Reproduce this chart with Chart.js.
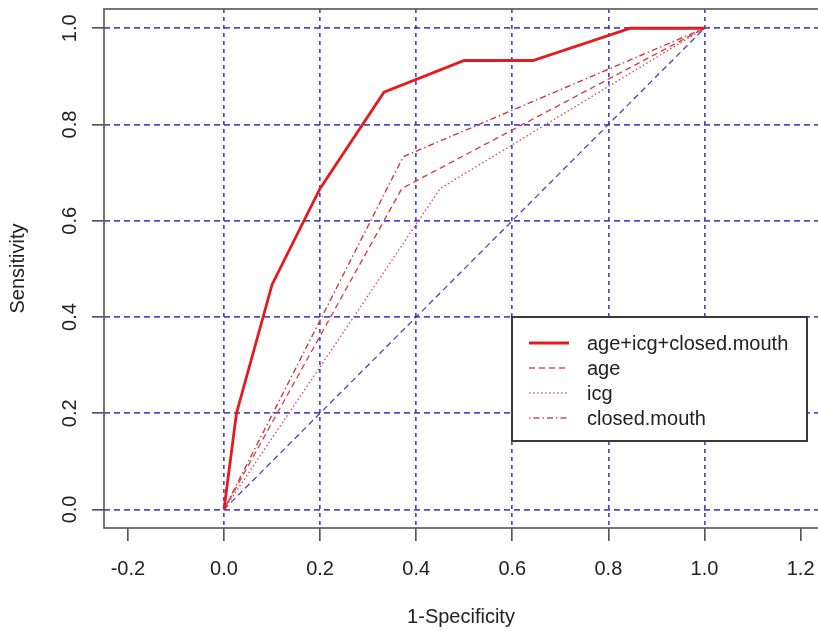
<!DOCTYPE html>
<html>
<head>
<meta charset="utf-8">
<script src="https://cdn.jsdelivr.net/npm/chart.js@4/dist/chart.umd.min.js"></script>
<style>
  html, body { margin: 0; padding: 0; background: #ffffff; overflow: hidden; }
  #wrap { width: 818px; height: 632px; }
</style>
</head>
<body>
<div id="wrap"><canvas id="c" width="818" height="632"></canvas></div>
<script>
// ---- data ----
const seriesNames = ['age+icg+closed.mouth', 'age', 'icg', 'closed.mouth'];
const combinedFpr = [0, 0.026, 0.1, 0.2, 0.333, 0.5, 0.643, 0.846, 1.0];
const combinedTpr = [0, 0.2, 0.467, 0.667, 0.867, 0.933, 0.933, 1.0, 1.0];
const ageFpr = [0, 0.37, 1.0];
const ageTpr = [0, 0.667, 1.0];
const icgFpr = [0, 0.45, 1.0];
const icgTpr = [0, 0.667, 1.0];
const closedFpr = [0, 0.373, 1.0];
const closedTpr = [0, 0.733, 1.0];
const chanceX = [0, 1];
const chanceY = [0, 1];
const xTickValues = [-0.2, 0.0, 0.2, 0.4, 0.6, 0.8, 1.0, 1.2];
const yTickValues = [0.0, 0.2, 0.4, 0.6, 0.8, 1.0];
const xAxisTitle = '1-Specificity';
const yAxisTitle = 'Sensitivity';

const pts = (xs, ys) => xs.map((x, i) => ({ x: x, y: ys[i] }));

const gridBlue = 'rgba(45,45,195,0.85)';
const FONT = "'Liberation Sans', Arial, Helvetica, sans-serif";

const frameAndLegend = {
  id: 'frameAndLegend',
  afterDatasetsDraw(chart) {
    const ctx = chart.ctx;
    const a = chart.chartArea;
    ctx.save();
    // plot frame (R box)
    ctx.strokeStyle = '#555';
    ctx.lineWidth = 1.6;
    ctx.setLineDash([]);
    ctx.strokeRect(a.left, a.top, (a.right - a.left) + 8, a.bottom - a.top);

    // legend box
    const L = 512, T = 317, R = 807, B = 441;
    ctx.fillStyle = '#ffffff';
    ctx.fillRect(L, T, R - L, B - T);
    ctx.strokeStyle = '#3a3a3a';
    ctx.lineWidth = 2;
    ctx.strokeRect(L, T, R - L, B - T);
    const ds = chart.data.datasets.filter(d => seriesNames.includes(d.label));
    ctx.font = '20px ' + FONT;
    ctx.textBaseline = 'middle';
    ctx.textAlign = 'left';
    ds.forEach((d, i) => {
      const y = 343 + i * 25;
      ctx.beginPath();
      ctx.strokeStyle = d.legendColor || d.borderColor;
      ctx.lineWidth = d.borderWidth;
      ctx.setLineDash(d.borderDash || []);
      ctx.moveTo(529, y);
      ctx.lineTo(569, y);
      ctx.stroke();
      ctx.setLineDash([]);
      ctx.fillStyle = '#222';
      ctx.fillText(d.label, 587, y + 1);
    });
    ctx.restore();
  }
};

new Chart(document.getElementById('c'), {
  type: 'scatter',
  data: {
    datasets: [
      { label: seriesNames[0], data: pts(combinedFpr, combinedTpr), showLine: true,
        borderColor: '#e41a1c', borderWidth: 2.8, pointRadius: 0, borderDash: [] },
      { label: seriesNames[1], data: pts(ageFpr, ageTpr), showLine: true,
        borderColor: '#d8404a', legendColor: '#ea4a60', borderWidth: 1.4, pointRadius: 0, borderDash: [6, 4] },
      { label: seriesNames[2], data: pts(icgFpr, icgTpr), showLine: true,
        borderColor: '#d0506a', legendColor: '#d8607a', borderWidth: 1.4, pointRadius: 0, borderDash: [1.5, 2.5] },
      { label: seriesNames[3], data: pts(closedFpr, closedTpr), showLine: true,
        borderColor: '#d03a48', legendColor: '#e04858', borderWidth: 1.4, pointRadius: 0, borderDash: [1.5, 3, 6, 3] },
      { label: 'chance', data: pts(chanceX, chanceY), showLine: true,
        borderColor: 'rgba(50,50,190,0.9)', borderWidth: 1.3, pointRadius: 0, borderDash: [6, 4] }
    ]
  },
  options: {
    responsive: false,
    animation: false,
    layout: { padding: { top: 9, right: 0, bottom: 0, left: 0 } },
    plugins: { legend: { display: false }, tooltip: { enabled: false } },
    scales: {
      x: {
        type: 'linear',
        position: 'bottom',
        min: -0.2497,
        max: (818 - 224) / 480.5,
        afterBuildTicks: s => { s.ticks = xTickValues.map(v => ({ value: v })); },
        afterFit: s => { s.height = 104; s.paddingLeft = 0; s.paddingRight = 0; },
        ticks: {
          font: { family: FONT, size: 20 },
          color: '#222',
          padding: 16,
          maxRotation: 0,
          autoSkip: false,
          callback: v => Number(v).toFixed(1)
        },
        grid: {
          color: c => (c.tick && c.tick.value >= -1e-6 && c.tick.value <= 1 + 1e-6) ? gridBlue : 'rgba(0,0,0,0)',
          lineWidth: 1.7,
          tickColor: '#444',
          tickWidth: 1.5,
          tickLength: 13,
          drawTicks: true
        },
        border: { display: false, dash: [4, 4] },
        title: {
          display: true, text: xAxisTitle,
          font: { family: FONT, size: 20 }, color: '#222',
          padding: { top: 0, bottom: 3 }
        }
      },
      y: {
        type: 'linear',
        min: -0.0385,
        max: 1.04,
        afterBuildTicks: s => { s.ticks = yTickValues.map(v => ({ value: v })); },
        afterFit: s => { s.width = 104; s.paddingTop = 0; s.paddingBottom = 0; },
        ticks: {
          font: { family: FONT, size: 20 },
          color: '#222',
          padding: 8,
          minRotation: 90,
          maxRotation: 90,
          crossAlign: 'center',
          autoSkip: false,
          callback: v => Number(v).toFixed(1)
        },
        grid: {
          color: gridBlue,
          lineWidth: 1.7,
          tickColor: '#444',
          tickWidth: 1.5,
          tickLength: 12,
          drawTicks: true
        },
        border: { display: false, dash: [6, 4] },
        title: {
          display: true, text: yAxisTitle,
          font: { family: FONT, size: 20 }, color: '#222',
          padding: { top: 6, bottom: 0 }
        }
      }
    }
  },
  plugins: [frameAndLegend]
});
</script>
</body>
</html>
